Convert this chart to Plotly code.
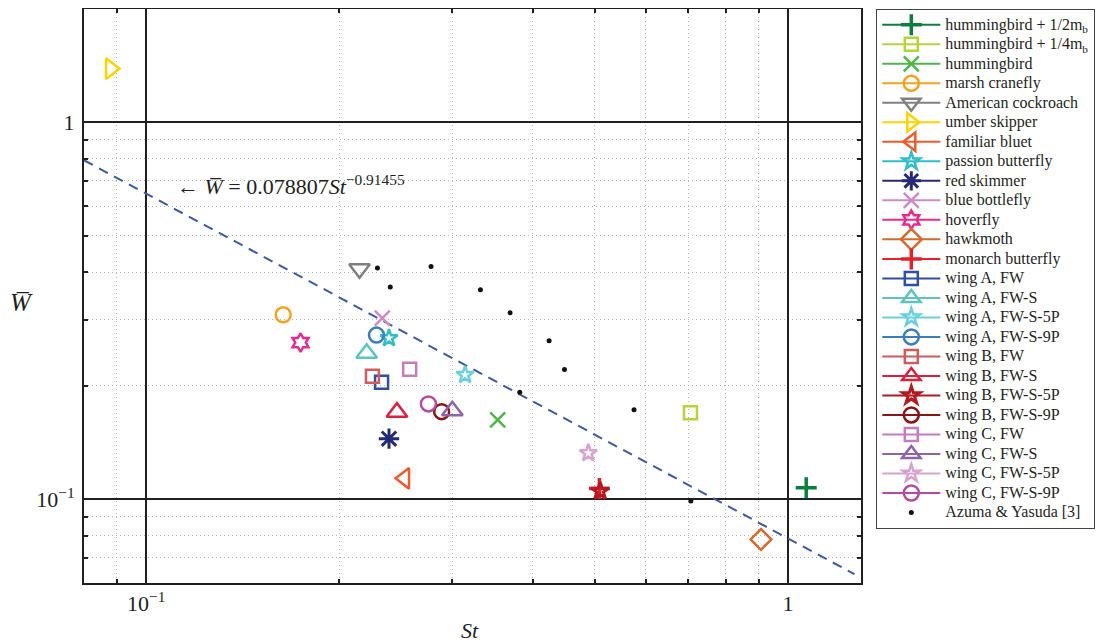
import math
import plotly.graph_objects as go

# ---------------- data ----------------
names = [
    "hummingbird + 1/2m<sub>b</sub>",
    "hummingbird + 1/4m<sub>b</sub>",
    "hummingbird",
    "marsh cranefly",
    "American cockroach",
    "umber skipper",
    "familiar bluet",
    "passion butterfly",
    "red skimmer",
    "blue bottlefly",
    "hoverfly",
    "hawkmoth",
    "monarch butterfly",
    "wing A, FW",
    "wing A, FW-S",
    "wing A, FW-S-5P",
    "wing A, FW-S-9P",
    "wing B, FW",
    "wing B, FW-S",
    "wing B, FW-S-5P",
    "wing B, FW-S-9P",
    "wing C, FW",
    "wing C, FW-S",
    "wing C, FW-S-5P",
    "wing C, FW-S-9P",
]
st_values = [1.068, 0.705, 0.353, 0.1635, 0.215, 0.088, 0.2527, 0.239, 0.239,
             0.2333, 0.174, 0.908, 0.5085, 0.2327, 0.2206, 0.314, 0.2285,
             0.2252, 0.2459, 0.5098, 0.2887, 0.2574, 0.300, 0.4886, 0.2753]
w_values = [0.1073, 0.1698, 0.1625, 0.3088, 0.4093, 1.389, 0.1137, 0.2678, 0.1449,
            0.3027, 0.2607, 0.0783, 0.1068, 0.2046, 0.2442, 0.2139, 0.2728,
            0.2122, 0.1704, 0.1052, 0.1709, 0.2215, 0.1718, 0.1327, 0.1792]

azuma_name = "Azuma &amp; Yasuda [3]"
azuma_st = [0.2293, 0.2401, 0.2779, 0.3318, 0.3690, 0.4245, 0.4486, 0.3821, 0.5757, 0.706]
azuma_w = [0.4111, 0.3659, 0.4151, 0.3599, 0.3127, 0.2634, 0.2211, 0.1925, 0.1730, 0.099]

fit_coef = 0.078807
fit_exp = -0.91455
fit_st = [0.08, 1.27]

x_major = [0.1, 1]
x_major_text = ["10<sup>\u22121</sup>", "1"]
x_minor = [0.09, 0.2, 0.3, 0.4, 0.5, 0.6, 0.7, 0.8, 0.9]
y_major = [0.1, 1]
y_major_text = ["10<sup>\u22121</sup>", "1"]
y_minor = [0.07, 0.08, 0.09, 0.2, 0.3, 0.4, 0.5, 0.6, 0.7, 0.8, 0.9]

# ---------------- styles ----------------
colors = ["#0B7F40", "#B6D436", "#4DB848", "#F7A21B", "#808080", "#FFD200",
          "#F15A29", "#2EBFC8", "#262A74", "#D08BC2", "#EC2A8E", "#D8692A",
          "#E8202A", "#2E4FA3", "#5EC4C0", "#6ACFE0", "#3C7DBD", "#D35B5B",
          "#E01F3D", "#B5191F", "#8B1414", "#C67DBF", "#8E62AD", "#D9A3CF",
          "#B9499F"]
symbols = ["cross-thin-open", "square-open", "x-thin-open", "circle-open",
           "triangle-down-open", "triangle-right-open", "triangle-left-open",
           "star-open", "asterisk-open", "x-thin-open", "hexagram-open",
           "diamond-open", "cross-thin-open", "square-open", "triangle-up-open",
           "star-open", "circle-open", "square-open", "triangle-up-open",
           "star-open", "circle-open", "square-open", "triangle-up-open",
           "star-open", "circle-open"]
sizes = [15, 13, 15, 15, 18, 18, 18, 13, 17, 15, 14, 16, 15, 13, 18, 13, 15,
         13, 18, 13, 15, 13, 18, 13, 15]
mlw = [3.5, 2.5, 2.5, 2.5, 2.5, 2.5, 2.5, 2.5, 3, 2.5, 2.5, 2.5, 3.5, 2.5, 2.5,
       2.5, 2.5, 2.5, 2.5, 3, 2.5, 2.5, 2.5, 2.5, 2.5]

FONT = "Liberation Serif"
INK = "#231f20"
LEG_SPAN = '<span style="font-size:16px">{}</span>'

fig = go.Figure()

# fit line
fit_w = [fit_coef * s ** fit_exp for s in fit_st]
fig.add_trace(go.Scatter(
    x=fit_st, y=fit_w, mode="lines", showlegend=False, hoverinfo="skip",
    line=dict(color="#3A59A8", width=2, dash="10px,7px")))

for i, name in enumerate(names):
    fig.add_trace(go.Scatter(
        x=[st_values[i]], y=[w_values[i]], mode="lines+markers",
        name=LEG_SPAN.format(name),
        line=dict(color=colors[i], width=2),
        marker=dict(symbol=symbols[i], size=sizes[i], color=colors[i],
                    line=dict(color=colors[i], width=mlw[i]))))

fig.add_trace(go.Scatter(
    x=azuma_st, y=azuma_w, mode="markers", name=LEG_SPAN.format(azuma_name),
    marker=dict(symbol="circle", size=5, color="#111111")))

axis_common = dict(
    type="log", showline=True, linecolor=INK, linewidth=2, mirror="ticks",
    showgrid=True, gridcolor=INK, gridwidth=2, ticks="", zeroline=False,
    tickfont=dict(family=FONT, size=22, color=INK),
)

minor_common = dict(tickmode="array", showgrid=True, gridcolor="#b3b3b3",
                    griddash="1px,3px", gridwidth=1, ticks="inside",
                    ticklen=4, tickwidth=2, tickcolor=INK)

fig.update_layout(
    width=1097, height=634,
    margin=dict(l=76, r=244.3, t=1.3, b=59.3, autoexpand=False),
    paper_bgcolor="white", plot_bgcolor="white",
    font=dict(family=FONT, color=INK),
    xaxis=dict(**axis_common, range=[math.log10(0.08), math.log10(1.3)],
               tickmode="array", tickvals=x_major, ticktext=x_major_text,
               ticklabelstandoff=0,
               minor=dict(**minor_common, tickvals=x_minor)),
    yaxis=dict(**axis_common, range=[math.log10(0.06), math.log10(2)],
               tickmode="array", tickvals=y_major, ticktext=y_major_text,
               ticklabelstandoff=3,
               minor=dict(**minor_common, tickvals=y_minor)),
    legend=dict(x=1.0197, y=1.0, xanchor="left", yanchor="top",
                bgcolor="white", bordercolor="#444", borderwidth=1,
                font=dict(family=FONT, size=12.7, color=INK),
                itemwidth=58, tracegroupgap=0),
    showlegend=True,
    annotations=[
        dict(text="\u2190 <i>W\u0305</i> = 0.078807<i>St</i><sup>\u22120.91455</sup>",
             xref="paper", yref="paper", x=0.1172, y=0.6936,
             xanchor="left", yanchor="middle", showarrow=False,
             font=dict(family=FONT, size=22, color=INK)),
        dict(text="<i>W\u0305</i>", xref="paper", yref="paper",
             x=-0.0798, y=0.4895, xanchor="center", yanchor="middle",
             showarrow=False, font=dict(family=FONT, size=25, color=INK)),
        dict(text="<i>St</i>", xref="paper", yref="paper",
             x=0.497, y=-0.082, xanchor="center", yanchor="middle",
             showarrow=False, font=dict(family=FONT, size=22, color=INK)),
    ],
)

fig.write_html("out.html")
